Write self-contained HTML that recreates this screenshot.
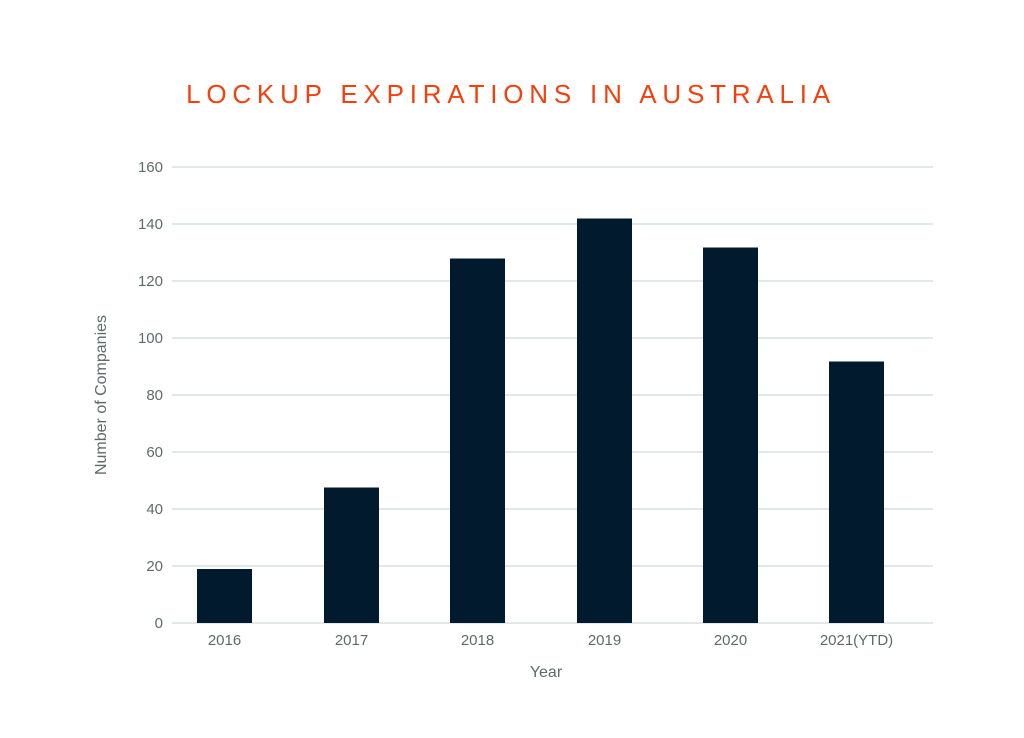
<!DOCTYPE html>
<html><head><meta charset="utf-8"><style>
html,body{margin:0;padding:0;background:#fff;}
svg{display:block;}
</style></head><body>
<svg width="1024" height="738" xmlns="http://www.w3.org/2000/svg">
<rect width="1024" height="738" fill="#fff"/>
<text x="511" y="103" text-anchor="middle" font-family="Liberation Sans, sans-serif" font-size="26" letter-spacing="5.8" fill="#f4400f">LOCKUP EXPIRATIONS IN AUSTRALIA</text>
<g stroke="#d6e0e0" stroke-width="1.6">
<line x1="172" x2="933" y1="623" y2="623"/>
<line x1="172" x2="933" y1="566" y2="566"/>
<line x1="172" x2="933" y1="509" y2="509"/>
<line x1="172" x2="933" y1="452" y2="452"/>
<line x1="172" x2="933" y1="395" y2="395"/>
<line x1="172" x2="933" y1="338" y2="338"/>
<line x1="172" x2="933" y1="281" y2="281"/>
<line x1="172" x2="933" y1="224" y2="224"/>
<line x1="172" x2="933" y1="167" y2="167"/>
</g>
<g font-family="Liberation Sans, sans-serif" font-size="15" fill="#5f6b6b" text-anchor="end">
<text x="163" y="628">0</text>
<text x="163" y="571">20</text>
<text x="163" y="514">40</text>
<text x="163" y="457">60</text>
<text x="163" y="400">80</text>
<text x="163" y="343">100</text>
<text x="163" y="286">120</text>
<text x="163" y="229">140</text>
<text x="163" y="172">160</text>
</g>
<g fill="#021a2e">
<rect x="197" y="569" width="55" height="54"/>
<rect x="324" y="487.5" width="55" height="135.5"/>
<rect x="450" y="258.5" width="55" height="364.5"/>
<rect x="577" y="218.5" width="55" height="404.5"/>
<rect x="703" y="247.5" width="55" height="375.5"/>
<rect x="829" y="361.5" width="55" height="261.5"/>
</g>
<g font-family="Liberation Sans, sans-serif" font-size="15" fill="#5f6b6b" text-anchor="middle">
<text x="224.5" y="645">2016</text>
<text x="351.5" y="645">2017</text>
<text x="477.5" y="645">2018</text>
<text x="604.5" y="645">2019</text>
<text x="730.5" y="645">2020</text>
<text x="856.5" y="645">2021(YTD)</text>
<text x="546" y="677" font-size="16">Year</text>
<text transform="translate(106,395) rotate(-90)" font-size="16">Number of Companies</text>
</g>
</svg>
</body></html>
